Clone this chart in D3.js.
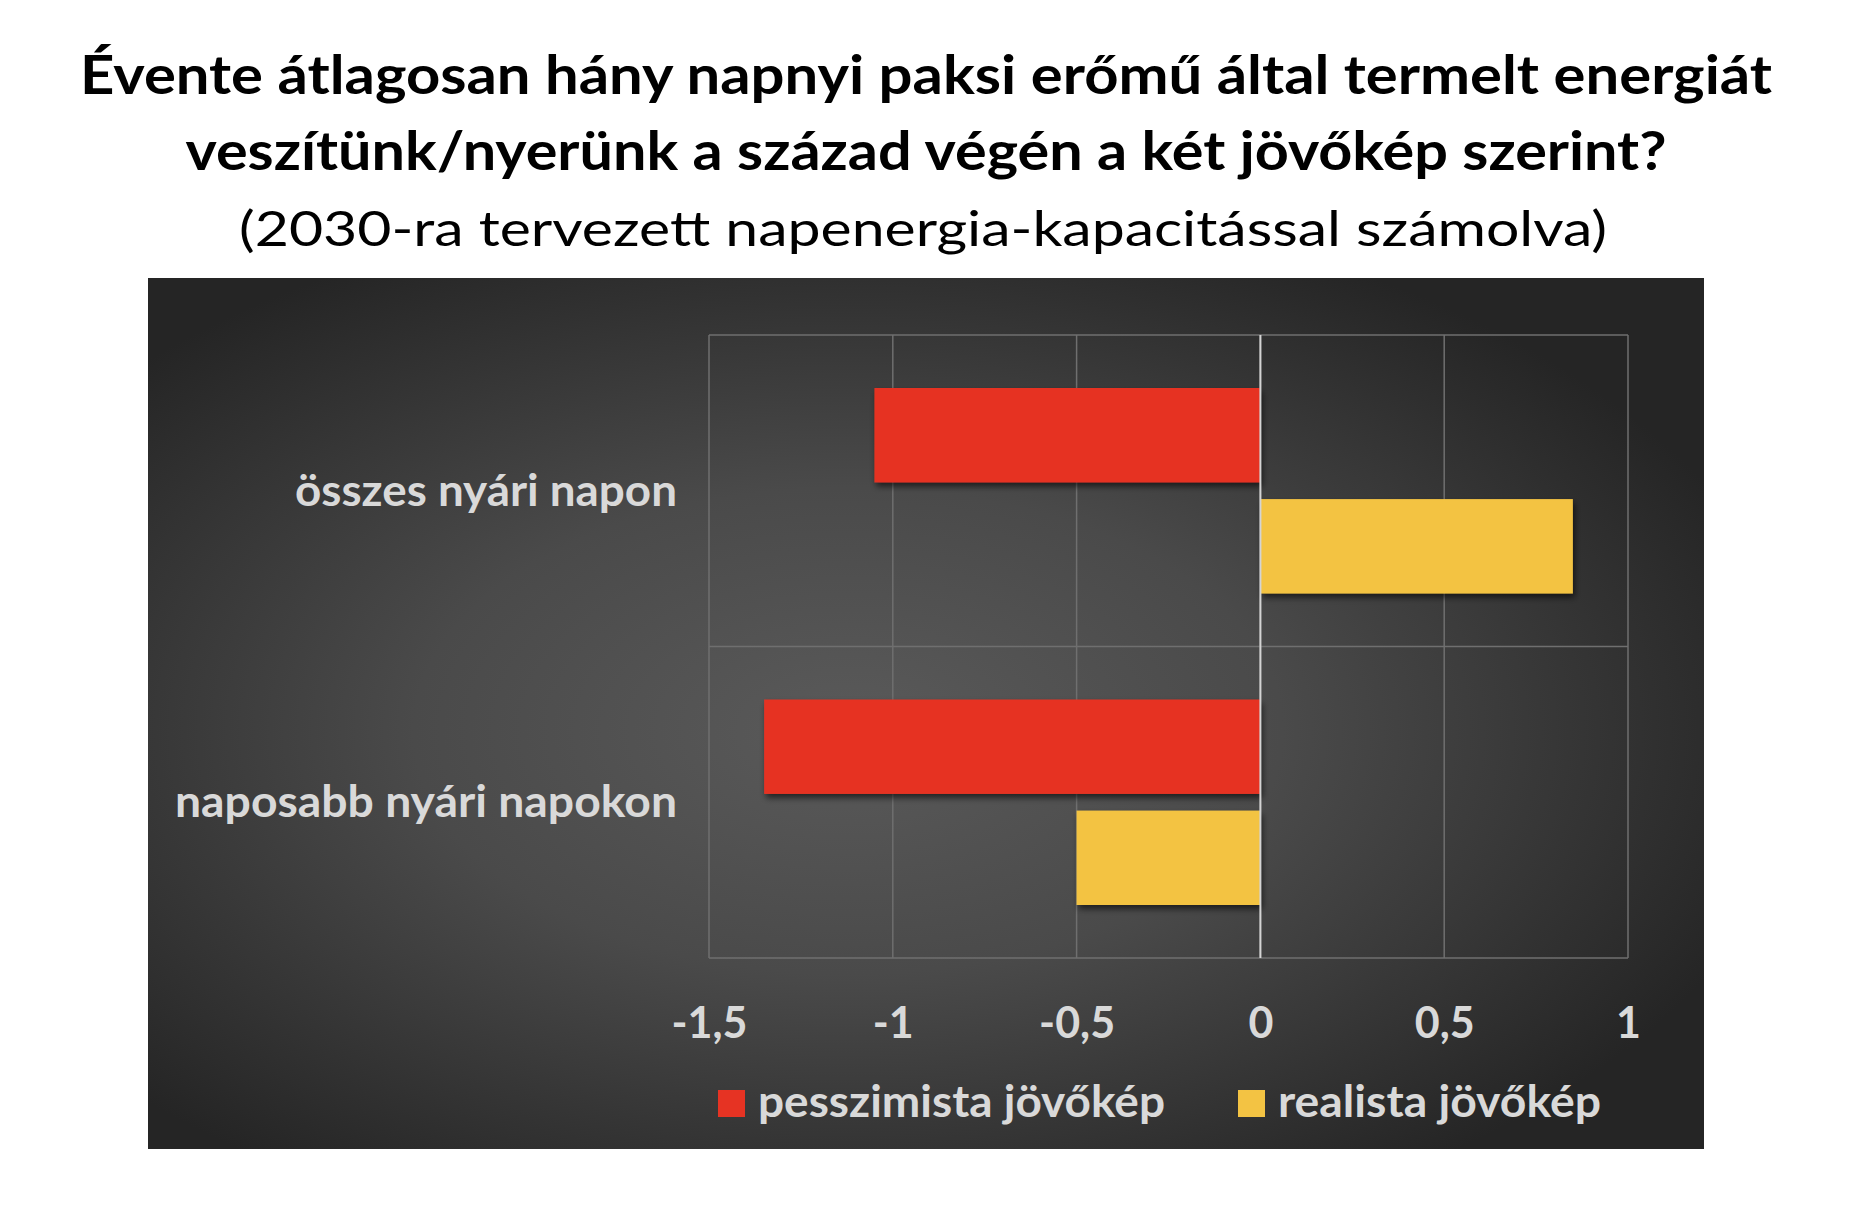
<!DOCTYPE html>
<html>
<head>
<meta charset="utf-8">
<script src="https://cdn.jsdelivr.net/npm/d3@7"></script>
<style>
  body { margin: 0; background: #fff; }
  text { font-family: Lato, "Open Sans", sans-serif; }
</style>
</head>
<body>
<script>
// data
var categories = ["összes nyári napon", "naposabb nyári napokon"];
var seriesNames = ["pesszimista jövőkép", "realista jövőkép"];
var pesszimista = [-1.05, -1.35];
var realista = [0.85, -0.5];
var tickValues = [-1.5, -1, -0.5, 0, 0.5, 1];
var titleLines = [
    "Évente átlagosan hány napnyi paksi erőmű által termelt energiát",
    "veszítünk/nyerünk a század végén a két jövőkép szerint?",
    "(2030-ra tervezett napenergia-kapacitással számolva)"
];
var colors = ["#e63323", "#f3c343"];

var svg = d3.select("body")
    .append("svg")
    .attr("width", 1856)
    .attr("height", 1218)
    .style("display", "block");

var defs = svg.append("defs");
var grad = defs.append("radialGradient")
    .attr("id", "bg")
    .attr("cx", 0.45).attr("cy", 0.52).attr("r", 0.62);
grad.append("stop").attr("offset", "0%").attr("stop-color", "#5a5a5a");
grad.append("stop").attr("offset", "45%").attr("stop-color", "#4a4a4a");
grad.append("stop").attr("offset", "100%").attr("stop-color", "#252525");

var shadow = defs.append("filter").attr("id", "shadow")
    .attr("x", "-5%").attr("y", "-20%").attr("width", "115%").attr("height", "150%");
shadow.append("feDropShadow")
    .attr("dx", 2).attr("dy", 4).attr("stdDeviation", 3)
    .attr("flood-color", "#000").attr("flood-opacity", 0.6);

// title
var titleWidths = [1692, 1481, 1368];
svg.selectAll("text.title")
    .data(titleLines)
    .enter()
    .append("text")
    .attr("class", "title")
    .attr("x", function(d, i) { return i == 2 ? 923 : 926; })
    .attr("y", function(d, i) { return [94, 170, 246][i]; })
    .attr("text-anchor", "middle")
    .attr("textLength", function(d, i) { return titleWidths[i]; })
    .attr("lengthAdjust", "spacingAndGlyphs")
    .style("font-size", function(d, i) { return i == 2 ? "49px" : "53px"; })
    .style("font-weight", function(d, i) { return i == 2 ? "normal" : "bold"; })
    .style("fill", "#000")
    .text(function(d) { return d; });

// chart panel
svg.append("rect")
    .attr("x", 148).attr("y", 278)
    .attr("width", 1704 - 148).attr("height", 1149 - 278)
    .attr("fill", "url(#bg)");

var margin = {top: 335, left: 709};
var width = 1628 - 709;
var height = 958 - 335;
var g = svg.append("g").attr("transform", "translate(" + margin.left + "," + margin.top + ")");

var x = d3.scaleLinear()
    .domain([-1.5, 1])
    .range([0, width]);

var y0 = d3.scaleBand()
    .domain(categories)
    .range([0, height]);

var y1 = d3.scaleBand()
    .domain(seriesNames)
    .range([53, y0.bandwidth() - 53])
    .paddingInner(0.15);

// grid
g.selectAll("line.vgrid")
    .data(tickValues)
    .enter()
    .append("line")
    .attr("class", "vgrid")
    .attr("x1", function(d) { return x(d); })
    .attr("x2", function(d) { return x(d); })
    .attr("y1", 0).attr("y2", height)
    .attr("stroke", "#6f6f6f")
    .attr("stroke-width", 1.5);

var hLines = categories.map(function(c) { return y0(c); }).concat([height]);
g.selectAll("line.hgrid")
    .data(hLines)
    .enter()
    .append("line")
    .attr("class", "hgrid")
    .attr("x1", 0).attr("x2", width)
    .attr("y1", function(d) { return d; })
    .attr("y2", function(d) { return d; })
    .attr("stroke", "#6f6f6f")
    .attr("stroke-width", 1.5);

// bars
var rows = categories.map(function(c, i) {
    return {cat: c, values: [
        {name: seriesNames[0], value: pesszimista[i], color: colors[0]},
        {name: seriesNames[1], value: realista[i], color: colors[1]}
    ]};
});

var groups = g.selectAll("g.cat")
    .data(rows)
    .enter()
    .append("g")
    .attr("class", "cat")
    .attr("transform", function(d) { return "translate(0," + y0(d.cat) + ")"; });

groups.selectAll("rect")
    .data(function(d) { return d.values; })
    .enter()
    .append("rect")
    .attr("x", function(d) { return x(Math.min(0, d.value)); })
    .attr("y", function(d) { return y1(d.name); })
    .attr("width", function(d) { return Math.abs(x(d.value) - x(0)); })
    .attr("height", y1.bandwidth())
    .attr("fill", function(d) { return d.color; })
    .attr("filter", "url(#shadow)");

// zero line
g.append("line")
    .attr("x1", x(0)).attr("x2", x(0))
    .attr("y1", 0).attr("y2", height)
    .attr("stroke", "#d4d4d4")
    .attr("stroke-width", 2);

// x axis labels
var xAxis = d3.axisBottom(x)
    .tickValues(tickValues)
    .tickSize(0)
    .tickFormat(function(d) { return String(d).replace(".", ","); });

g.append("g")
    .attr("transform", "translate(0," + height + ")")
    .call(customXAxis);

function customXAxis(g) {
    g.call(xAxis);
    g.select(".domain").remove();
    g.selectAll(".tick text")
        .attr("y", 80)
        .attr("dy", 0)
        .style("font-family", "Lato, sans-serif")
        .style("font-size", "43px")
        .style("font-weight", "bold")
        .style("fill", "#d9d9d9");
}

// category labels
var labelWidths = [382, 502];
g.selectAll("text.cat")
    .data(categories)
    .enter()
    .append("text")
    .attr("class", "cat")
    .attr("x", 677 - margin.left)
    .attr("y", function(d) { return y0(d) + y0.bandwidth() / 2; })
    .attr("dy", "0.35em")
    .attr("text-anchor", "end")
    .attr("textLength", function(d, i) { return labelWidths[i]; })
    .attr("lengthAdjust", "spacingAndGlyphs")
    .style("font-size", "43px")
    .style("font-weight", "bold")
    .style("fill", "#d9d9d9")
    .text(function(d) { return d; });

// legend
var legendX = [718, 1238];
var legendW = [407, 323];
var legend = svg.selectAll("g.legend")
    .data(seriesNames)
    .enter()
    .append("g")
    .attr("class", "legend")
    .attr("transform", function(d, i) { return "translate(" + legendX[i] + ",1090)"; });

legend.append("rect")
    .attr("width", 27).attr("height", 27)
    .attr("fill", function(d, i) { return colors[i]; });

legend.append("text")
    .attr("x", 40)
    .attr("y", 27)
    .attr("textLength", function(d, i) { return legendW[i]; })
    .attr("lengthAdjust", "spacingAndGlyphs")
    .style("font-size", "43px")
    .style("font-weight", "bold")
    .style("fill", "#d9d9d9")
    .text(function(d) { return d; });
</script>
</body>
</html>
